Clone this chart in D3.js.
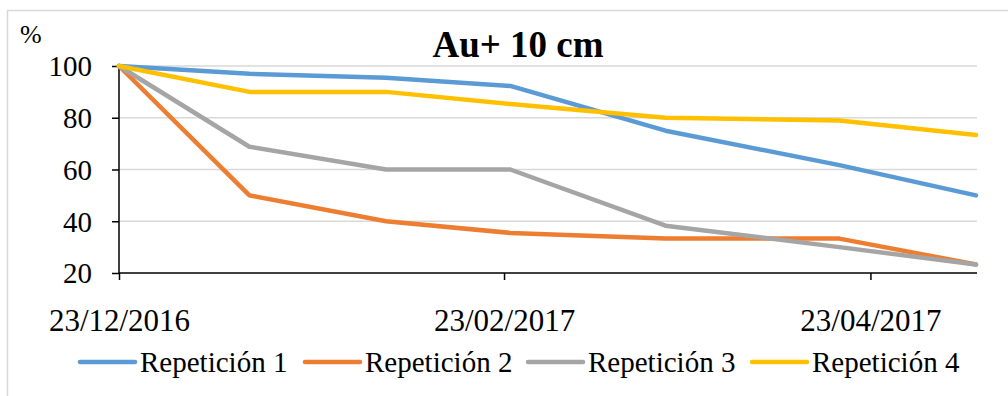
<!DOCTYPE html>
<html>
<head>
<meta charset="utf-8">
<script src="https://cdn.jsdelivr.net/npm/d3@7"></script>
</head>
<body style="margin:0;background:#fff">
<script>
// data
var dates = ["2016-12-23", "2017-01-13", "2017-02-04", "2017-02-24", "2017-03-21", "2017-04-18", "2017-05-10"];
var rep1 = [100, 97, 95.5, 92.3, 75, 61.7, 50];
var rep2 = [100, 50, 40, 35.5, 33.3, 33.3, 23.3];
var rep3 = [100, 68.8, 60, 60, 38.3, 30, 23.3];
var rep4 = [100, 90, 90, 85.3, 80, 78.9, 73.3];
var seriesNames = ["Repetición 1", "Repetición 2", "Repetición 3", "Repetición 4"];
var colors = ["#5B9BD5", "#ED7D31", "#A5A5A5", "#FFC000"];
var yTicks = [20, 40, 60, 80, 100];
var xTicks = ["2016-12-23", "2017-02-23", "2017-04-23"];

var W = 1008, H = 396;
var FONT = "Liberation Serif";
var parse = d3.timeParse("%Y-%m-%d");
var fmt = d3.timeFormat("%d/%m/%Y");

var svg = d3.select("body").append("svg")
    .attr("width", W)
    .attr("height", H)
    .style("display", "block");

// chart frame
svg.append("rect")
    .attr("x", 7.5).attr("y", 10.5)
    .attr("width", W + 10).attr("height", H + 10)
    .attr("fill", "none")
    .attr("stroke", "#D9D9D9")
    .attr("stroke-width", 1.5);

var x = d3.scaleTime()
    .domain([parse(dates[0]), parse(dates[dates.length - 1])])
    .range([119, 976]);
var y = d3.scaleLinear().domain([20, 100]).range([273, 66]);

// gridlines
svg.append("g").selectAll("line")
    .data(yTicks.filter(function(d){ return d > 20; }))
    .enter().append("line")
    .attr("x1", 119).attr("x2", 977)
    .attr("y1", function(d){ return y(d); })
    .attr("y2", function(d){ return y(d); })
    .attr("stroke", "#D9D9D9")
    .attr("stroke-width", 1.5);

// axes
var yAxis = svg.append("g")
    .attr("transform", "translate(119,0)")
    .call(d3.axisLeft(y).tickValues(yTicks).tickSize(7).tickPadding(20));
var xAxis = svg.append("g")
    .attr("transform", "translate(0,273)")
    .call(d3.axisBottom(x).tickValues(xTicks.map(parse)).tickFormat(fmt).tickSize(7));
yAxis.attr("font-family", FONT);
xAxis.attr("font-family", FONT);
xAxis.select(".domain").attr("d", "M119,0H977");
yAxis.select(".domain").attr("d", "M0,66V273");
svg.selectAll(".domain, .tick line").attr("stroke", "#000").attr("stroke-width", 1.5);
yAxis.selectAll("text")
    .attr("font-family", FONT).attr("font-size", 29)
    .attr("dy", "0.34em").attr("fill", "#000");
xAxis.selectAll("text")
    .attr("font-family", FONT).attr("font-size", 31)
    .attr("y", 58).attr("dy", 0).attr("fill", "#000");

// unit label and title
svg.append("text").attr("x", 20).attr("y", 43)
    .attr("font-family", FONT).attr("font-size", 26)
    .text("%");
svg.append("text").attr("x", 518).attr("y", 57)
    .attr("text-anchor", "middle")
    .attr("font-family", FONT)
    .attr("font-size", 37).attr("font-weight", "bold")
    .text("Au+ 10 cm");

// lines
var all = [rep1, rep2, rep3, rep4];
var line = d3.line()
    .x(function(d, i){ return x(parse(dates[i])); })
    .y(function(d){ return y(d); });
all.forEach(function(s, k){
  svg.append("path")
      .attr("d", line(s))
      .attr("fill", "none")
      .attr("stroke", colors[k])
      .attr("stroke-width", 4.5)
      .attr("stroke-linejoin", "round")
      .attr("stroke-linecap", "round");
});

// legend
var legX = [80, 305, 528, 752];
seriesNames.forEach(function(name, k){
  svg.append("line")
      .attr("x1", legX[k]).attr("x2", legX[k] + 55)
      .attr("y1", 362).attr("y2", 362)
      .attr("stroke", colors[k])
      .attr("stroke-width", 4.5)
      .attr("stroke-linecap", "round");
  svg.append("text")
      .attr("x", legX[k] + 60).attr("y", 372)
      .attr("font-family", FONT)
      .attr("font-size", 29)
      .text(name);
});
</script>
</body>
</html>
